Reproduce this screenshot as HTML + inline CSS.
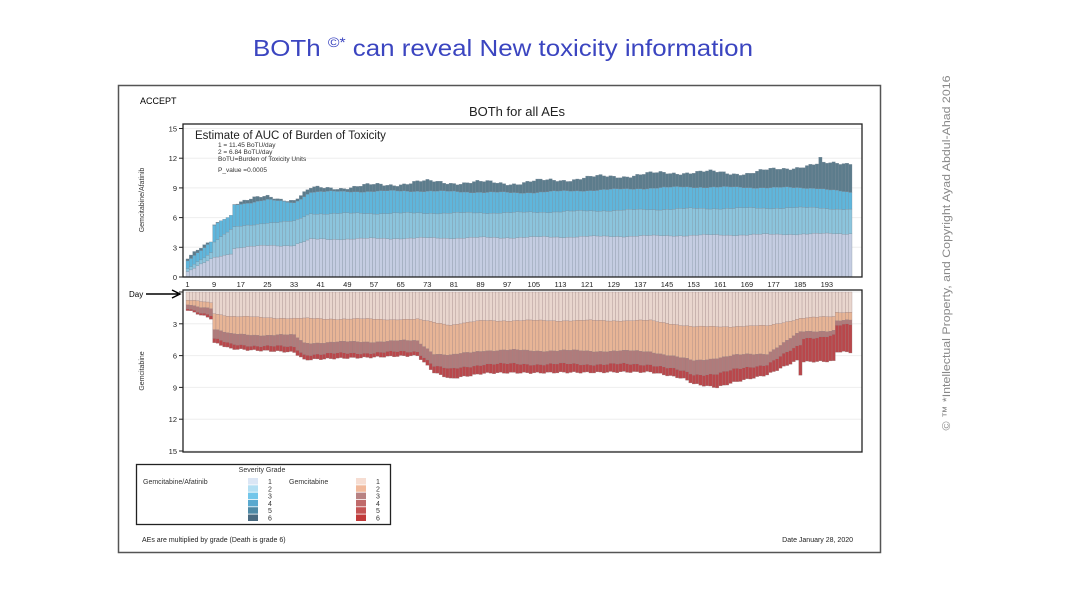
<!DOCTYPE html>
<html><head><meta charset="utf-8"><style>
body{margin:0;background:#fff;width:1067px;height:600px;overflow:hidden;font-family:"Liberation Sans",sans-serif}
</style></head><body>
<svg id="s" width="1067" height="600" xmlns="http://www.w3.org/2000/svg" font-family="Liberation Sans, sans-serif">
<text x="253" y="56" font-size="23" fill="#3b45c0" textLength="500" lengthAdjust="spacingAndGlyphs">BOTh <tspan font-size="14" dy="-9">©*</tspan><tspan dy="9"> can reveal New toxicity information</tspan></text>
<text transform="translate(950,253) rotate(-90)" text-anchor="middle" font-size="11" fill="#888" textLength="355" lengthAdjust="spacingAndGlyphs">© ™ *Intellectual Property,  and Copyright Ayad Abdul-Ahad 2016</text>
<rect x="118.5" y="85.5" width="762" height="467" fill="#fff" stroke="#555" stroke-width="1.5"/>
<text x="140" y="104" font-size="9">ACCEPT</text>
<text x="517" y="116" font-size="13" text-anchor="middle" fill="#222">BOTh for all AEs</text>
<g id="g"></g>
<rect x="183" y="124" width="679" height="153" fill="none" stroke="#222" stroke-width="1.3"/>
<rect x="183" y="290" width="679" height="162" fill="none" stroke="#222" stroke-width="1.3"/>
<text x="195" y="139" font-size="11.5" fill="#222">Estimate of AUC of Burden of Toxicity</text>
<text x="218" y="147" font-size="6.5" fill="#333">1 = 11.45 BoTU/day</text>
<text x="218" y="154" font-size="6.5" fill="#333">2 = 6.84 BoTU/day</text>
<text x="218" y="161" font-size="6.5" fill="#333">BoTU=Burden of Toxicity Units</text>
<text x="218" y="172" font-size="6.5" fill="#333">P_value =0.0005</text>
<text transform="translate(144,200) rotate(-90)" text-anchor="middle" font-size="7" fill="#333">Gemcitabine/Afatinib</text>
<text transform="translate(144,371) rotate(-90)" text-anchor="middle" font-size="7" fill="#333">Gemcitabine</text>
<text x="129" y="297" font-size="8">Day</text>
<path d="M146 294 L178 294 M172 290 L180 294 L172 298" stroke="#000" fill="none" stroke-width="1.5"/>
<rect x="136.5" y="464.5" width="254" height="60" fill="#fff" stroke="#222" stroke-width="1.3"/>
<text x="262" y="472" font-size="7" text-anchor="middle" fill="#333">Severity Grade</text>
<text x="143" y="484" font-size="7" fill="#333">Gemcitabine/Afatinib</text>
<text x="289" y="484" font-size="7" fill="#333">Gemcitabine</text>
<g id="lg"></g>
<text x="142" y="542" font-size="7" fill="#222">AEs are multiplied by grade (Death is grade 6)</text>
<text x="853" y="542" font-size="7" fill="#222" text-anchor="end">Date January 28, 2020</text>
</svg>
<script>
const NS="http://www.w3.org/2000/svg",g=document.getElementById('g');
function el(t,a,p){const e=document.createElementNS(NS,t);for(const k in a)e.setAttribute(k,a[k]);if(p.text!=null)e.textContent=p.text;(p.par||g).appendChild(e);return e;}
function interp(pts,d){for(let i=0;i<pts.length-1;i++){const[a,va]=pts[i],[b,vb]=pts[i+1];if(d>=a&&d<=b)return va+(vb-va)*(d-a)/(b-a);}return pts[pts.length-1][1];}
function nz(d,k){return (Math.sin(d*1.7+k)*0.5+Math.sin(d*0.37+k*2))*0.12;}
const N=200,x0=186,dw=3.33;
const Y0=277,uT=9.9,B0=292,uB=10.6;
for(let v=0;v<=15;v+=3){const y=Y0-v*uT;el('line',{x1:183,x2:862,y1:y,y2:y,stroke:'#eee'},{});
 el('text',{x:177,y:y+3,'font-size':7.5,'text-anchor':'end',fill:'#222'},{text:v});el('line',{x1:179,x2:183,y1:y,y2:y,stroke:'#222'},{});
 const yb=B0+v*uB;el('line',{x1:183,x2:862,y1:yb,y2:yb,stroke:'#eee'},{});
 if(v>0)el('text',{x:177,y:yb+3,'font-size':7.5,'text-anchor':'end',fill:'#222'},{text:v});el('line',{x1:179,x2:183,y1:yb,y2:yb,stroke:'#222'},{});}
const T=[
[[1,.5],[8,1.8],[9,2],[14,2.4],[15,2.9],[25,3.2],[33,3.2],[38,3.8],[60,3.9],[100,4],[200,4.4]],
[[1,.8],[8,2.5],[9,3.6],[15,5],[25,5.5],[33,5.6],[38,6.4],[100,6.5],[150,6.9],[190,7],[200,6.8]],
[[1,1.7],[8,3.5],[9,5.2],[14,6.2],[15,7.3],[25,7.8],[33,7.5],[38,8.6],[70,8.7],[100,8.5],[150,9.1],[190,9],[200,8.5]],
[[1,1.9],[8,3.5],[9,5.3],[14,6.3],[15,7.5],[25,8.1],[33,7.8],[38,8.9],[60,9.3],[70,9.6],[100,9.5],[120,10],[150,10.6],[170,10.5],[185,11.2],[200,11.6]]];
const TC=['#c5cde2','#8cc5dd','#5fb6dc','#5c7c8c'];
const B1=[[1,.8],[8,1],[9,2],[14,2.3],[33,2.5],[70,2.6],[80,3.1],[90,2.7],[140,2.7],[153,3.3],[175,3.2],[185,2.5],[195,2.3],[196,1.9],[200,1.9]];
const B2=[[1,1.2],[8,1.5],[9,3.5],[14,4],[33,4.1],[36,4.8],[70,4.6],[75,5.8],[80,6],[90,5.5],[140,5.6],[153,6.5],[165,6],[175,5.8],[185,3.8],[195,3.6],[196,2.7],[200,2.7]];
const R3=[[1,.3],[8,.7],[9,.9],[33,1.1],[70,1],[80,1.3],[150,1.2],[160,1.5],[175,1],[185,1.2],[186,.6],[200,.4]];
const R4=[[1,.2],[8,.3],[9,.4],[33,.5],[70,.4],[80,.9],[150,.7],[160,1.3],[175,1],[184,1.3],[185,2.8],[186,2.2],[200,2.6]];
const BC=['#e9d6ce','#e8b596','#b07b7b','#b9474b'];
for(let d=1;d<=N;d++){const x=x0+(d-1)*dw;let prev=0;
 for(let k=0;k<4;k++){let v=interp(T[k],d)+nz(d,k)*(k==3?1.5:0.5);if(k==3&&d==191)v=12.1;if(v<prev)v=prev;
  el('rect',{x:x,y:Y0-v*uT,width:dw,height:(v-prev)*uT,fill:TC[k],stroke:'#7a8a98','stroke-width':0.3},{});prev=v;}
 const b1=interp(B1,d)+nz(d,5)*0.4,b2=Math.max(b1,interp(B2,d)+nz(d,6)*0.6),b3=b2+Math.max(0.1,interp(R3,d)+nz(d,7)*0.5),b4=b3+Math.max(0.1,interp(R4,d)+nz(d,8)*0.5);
 const bs=[b1,b2,b3,b4];prev=0;
 for(let k=0;k<4;k++){const v=bs[k];
  el('rect',{x:x,y:B0+prev*uB,width:dw,height:(v-prev)*uB,fill:BC[k],stroke:'#9a8080','stroke-width':0.3},{});prev=v;}}
for(let d=1;d<=193;d+=8){el('text',{x:x0+(d-1)*dw+1.5,y:287,'font-size':7.5,'text-anchor':'middle',fill:'#222'},{text:d});}
const lg=document.getElementById('lg');
const LA=['#dbe6f5','#b3dff3','#72c6ea','#5aa9cf','#4f8aa6','#4a6a80'],LB=['#f6ddd2','#f1b99b','#b88282','#c06a6a','#c45454','#c13a3a'];
for(let i=0;i<6;i++){const y=478+i*7.3;
 el('rect',{x:248,y:y,width:10,height:6.5,fill:LA[i]},{par:lg});el('text',{x:268,y:y+6,'font-size':7,fill:'#333'},{text:i+1,par:lg});
 el('rect',{x:356,y:y,width:10,height:6.5,fill:LB[i]},{par:lg});el('text',{x:376,y:y+6,'font-size':7,fill:'#333'},{text:i+1,par:lg});}
</script>
</body></html>
